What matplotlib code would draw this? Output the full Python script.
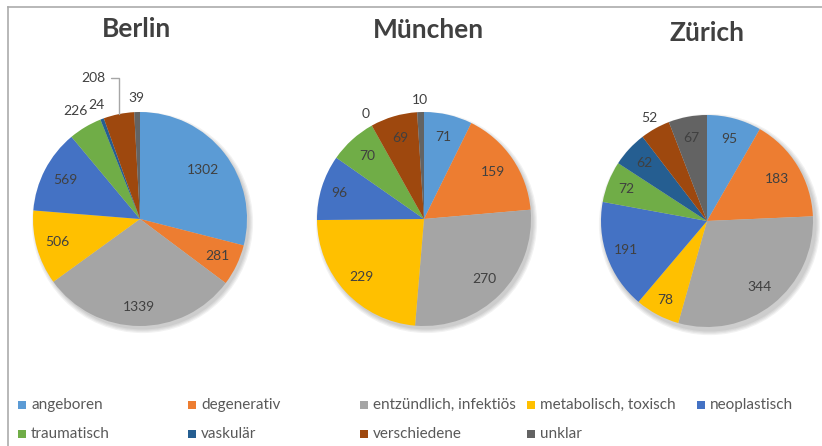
import matplotlib
matplotlib.use("Agg")
import matplotlib.pyplot as plt
from matplotlib.patches import Rectangle, Circle
from matplotlib.lines import Line2D
import numpy as np

plt.rcParams['font.family'] = ['Lato', 'DejaVu Sans']

categories = ["angeboren", "degenerativ", "entzündlich, infektiös", "metabolisch, toxisch",
              "neoplastisch", "traumatisch", "vaskulär", "verschiedene", "unklar"]
colors = ["#5B9BD5", "#ED7D31", "#A5A5A5", "#FFC000", "#4472C4",
          "#70AD47", "#255E91", "#9E480E", "#636363"]

cities = ["Berlin", "München", "Zürich"]
berlin = [1302, 281, 1339, 506, 569, 226, 24, 208, 39]
muenchen = [71, 159, 270, 229, 96, 70, 0, 69, 10]
zuerich = [95, 183, 344, 78, 191, 72, 62, 52, 67]
values = [berlin, muenchen, zuerich]

# layout / style (pixels)
W, H = 822, 446
centers = [(140, 219), (424, 219), (707, 221)]
radii = [107, 107, 106]
title_pos = [(137, 37), (428, 38), (707, 41)]
label_r = [
    [0.74, 0.80, 0.82, 0.80, 0.79, 1.17, 1.14, None, 1.13],
    [0.79, 0.78, 0.80, 0.80, 0.83, 0.79, 1.12, 0.79, 1.11],
    [0.80, 0.77, 0.79, 0.84, 0.81, 0.82, 0.81, 1.11, 0.80],
]
leader_text = {(0, 7): (-0.44, 1.32)}
txt_col = "#404040"

fig = plt.figure(figsize=(W / 100, H / 100), dpi=100)

half = 165
for ci, (city, vals) in enumerate(zip(cities, values)):
    cx, cy = centers[ci]
    R = radii[ci]
    ax = fig.add_axes([(cx - half) / W, (H - cy - half) / H, 2 * half / W, 2 * half / H])
    # soft shadow
    for k, a in enumerate([0.05, 0.05, 0.05, 0.05]):
        ax.add_patch(Circle((2.5 / R, -3.5 / R), 1.0 + (3 - k) * 1.2 / R,
                            color="#000000", alpha=a, lw=0, zorder=0))
    wedges, _ = ax.pie(vals, colors=colors, startangle=90, counterclock=False,
                       radius=1.0 * R / 107, wedgeprops=dict(linewidth=0))
    for w in wedges:
        w.set_zorder(2)
    for i, w in enumerate(wedges):
        mid = np.deg2rad((w.theta1 + w.theta2) / 2)
        if (ci, i) in leader_text:
            tx, ty = leader_text[(ci, i)]
            ex, ey = np.cos(mid) * R / 107, np.sin(mid) * R / 107
            ax.annotate(str(vals[i]), xy=(ex, ey), xytext=(tx, ty),
                        ha="center", va="center", fontsize=10, color=txt_col,
                        arrowprops=dict(arrowstyle="-", color="#A6A6A6", lw=1.0,
                                        connectionstyle="angle,angleA=0,angleB=90,rad=0",
                                        shrinkA=2, shrinkB=0), zorder=5)
            continue
        r = label_r[ci][i] * R / 107
        ax.text(np.cos(mid) * r, np.sin(mid) * r, str(vals[i]), ha="center", va="center",
                fontsize=10, color=txt_col, zorder=5)
    ax.set_xlim(-half / 107, half / 107)
    ax.set_ylim(-half / 107, half / 107)
    ax.set_aspect('equal', adjustable='box')
    ax.axis('off')
    tx, ty = title_pos[ci]
    fig.text(tx / W, 1 - ty / H, city, ha="center", va="baseline", fontsize=19,
             fontweight="bold", color=txt_col)

# frame lines
fig.add_artist(Line2D([8 / W, 1.0], [1 - 7 / H, 1 - 7 / H], transform=fig.transFigure,
                      color="#ABABAB", lw=1.2))
fig.add_artist(Line2D([8 / W, 8 / W], [1 - 7 / H, 0], transform=fig.transFigure,
                      color="#ABABAB", lw=1.2))

# legend
col_x = [18, 188, 360, 527, 697]
row_bottom = [409, 438]
msize = 8
for i, (cat, col) in enumerate(zip(categories, colors)):
    r, c = divmod(i, 5)
    x = col_x[c]
    yb = row_bottom[r]
    fig.add_artist(Rectangle((x / W, 1 - yb / H), msize / W, msize / H,
                             transform=fig.transFigure, color=col, lw=0))
    fig.text((x + 13) / W, 1 - yb / H, cat, ha="left", va="baseline", fontsize=11,
             color="#595959")

fig.savefig("out.png", dpi=100)
